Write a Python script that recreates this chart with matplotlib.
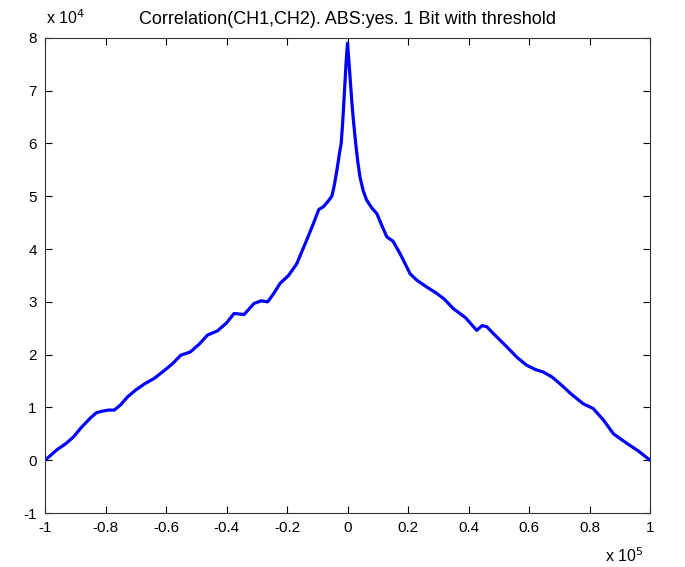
import numpy as np
import matplotlib.pyplot as plt
from matplotlib.ticker import FuncFormatter

# lag (units of 1e5) and correlation (units of 1e4)
lag = [-1.0, -0.96, -0.93, -0.906, -0.88, -0.85, -0.83, -0.81, -0.79, -0.771, -0.75,
       -0.727, -0.70, -0.67, -0.639, -0.61, -0.58, -0.551, -0.52, -0.49, -0.463,
       -0.43, -0.40, -0.375, -0.342, -0.309, -0.285, -0.264, -0.245, -0.223, -0.195,
       -0.168, -0.135, -0.113, -0.095, -0.08, -0.065, -0.052, -0.044, -0.035, -0.027,
       -0.021, -0.016, -0.012, -0.008, -0.004, 0.0, 0.004, 0.009, 0.014, 0.02, 0.027,
       0.034, 0.041, 0.052, 0.063, 0.08, 0.097, 0.113, 0.13, 0.15, 0.174,
       0.207, 0.229, 0.262, 0.295, 0.32, 0.35, 0.39, 0.427, 0.445, 0.46, 0.482,
       0.526, 0.56, 0.592, 0.62, 0.647, 0.675, 0.702, 0.74, 0.779, 0.812, 0.846,
       0.879, 0.923, 0.96, 1.0]
corr = [0.0, 0.2, 0.32, 0.44, 0.62, 0.8, 0.9, 0.93, 0.95, 0.95, 1.05,
        1.2, 1.33, 1.45, 1.55, 1.68, 1.82, 1.99, 2.05, 2.2, 2.37,
        2.45, 2.6, 2.78, 2.76, 2.97, 3.02, 3.0, 3.15, 3.35, 3.5,
        3.72, 4.17, 4.48, 4.75, 4.8, 4.9, 5.0, 5.2, 5.5, 5.8,
        6.0, 6.4, 6.8, 7.2, 7.6, 7.9, 7.6, 7.2, 6.8, 6.4, 6.0,
        5.65, 5.37, 5.1, 4.93, 4.78, 4.67, 4.45, 4.23, 4.15, 3.91,
        3.53, 3.41, 3.28, 3.16, 3.05, 2.87, 2.7, 2.46, 2.55, 2.53, 2.40,
        2.15, 1.95, 1.80, 1.72, 1.67, 1.58, 1.45, 1.25, 1.07, 0.98, 0.76,
        0.50, 0.32, 0.18, 0.0]

x_ticks = [-1, -0.8, -0.6, -0.4, -0.2, 0, 0.2, 0.4, 0.6, 0.8, 1]
y_ticks = [-1, 0, 1, 2, 3, 4, 5, 6, 7, 8]

plt.rcParams['font.family'] = ['Liberation Sans', 'DejaVu Sans']

fig = plt.figure(figsize=(6.85, 5.67), dpi=100)
ax = fig.add_axes([0.0657, 0.0952, 0.8833, 0.838])

ax.plot(lag, corr, color='#0000ff', linewidth=2.3)

ax.set_xlim(-1, 1)
ax.set_ylim(-1, 8)
ax.set_xticks(x_ticks)
ax.set_yticks(y_ticks)
fmt = FuncFormatter(lambda v, p: '%g' % round(v, 2))
ax.xaxis.set_major_formatter(fmt)
ax.yaxis.set_major_formatter(fmt)
ax.tick_params(direction='in', top=True, right=True, length=5, width=0.8,
               labelsize=11, colors='black', pad=6)
for s in ax.spines.values():
    s.set_color('#333333')
    s.set_linewidth(0.8)

fig.text(0.507, 0.958, 'Correlation(CH1,CH2). ABS:yes. 1 Bit with threshold',
         fontsize=13, ha='center', va='baseline')
fig.text(0.067, 0.958, r'x 10$^{4}$', fontsize=11.5, ha='left', va='baseline')
fig.text(0.939, 0.008, r'x 10$^{5}$', fontsize=11.5, ha='right', va='baseline')

fig.savefig('out.png', dpi=100)
